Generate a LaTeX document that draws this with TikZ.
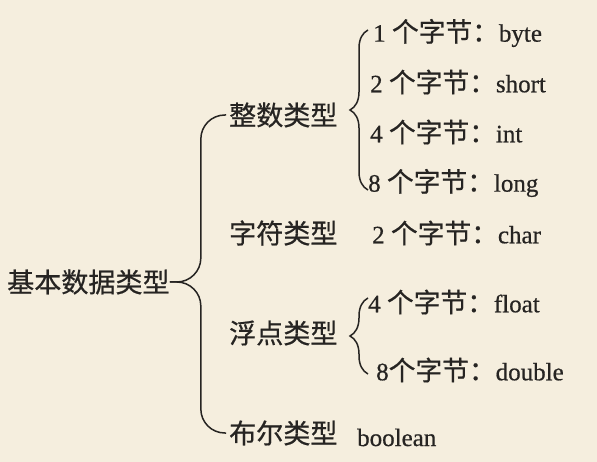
\documentclass[tikz,border=0pt]{standalone}
\usepackage{fontspec}
\setmainfont[FakeBold=0.6]{Liberation Serif}
\newfontfamily\cjk[Scale=1.07,FakeBold=0.6]{Noto Sans CJK SC}
\usepackage{xcolor}
\usetikzlibrary{decorations.pathreplacing}
\definecolor{paper}{RGB}{245,238,222}
\definecolor{ink}{RGB}{38,36,34}
\newcommand\zj[2]{#1 {\cjk 个字节：}#2}
\tikzstyle{lbl}=[anchor=west,inner sep=0pt,text=ink,font=\fontsize{25}{30}\selectfont]
\tikzstyle{kind}=[lbl,font=\fontsize{25.3}{30}\selectfont\cjk]
\tikzstyle{br}=[line width=1.5pt,draw=ink,rounded corners=24pt]
\tikzstyle{cbr}=[line width=1.5pt,draw=ink,decorate,decoration={brace,amplitude=18pt}]
\begin{document}
\begin{tikzpicture}[x=1pt,y=-1pt]
\fill[paper] (0,0) rectangle (597,462);
\useasboundingbox (0,0) rectangle (597,462);
\node[kind] (root) at (7,282) {基本数据类型};
\node[kind] (int) at (229,115) {整数类型};
\node[kind] (chr) at (229,233) {字符类型};
\node[kind] (flt) at (229,333) {浮点类型};
\node[kind] (bool) at (229,433) {布尔类型};
\node[lbl] (byte) at (373,33) {\zj{1}{byte}};
\node[lbl] (short) at (370,82) {\zj{2}{short}};
\node[lbl] (intv) at (370,132) {\zj{4}{int}};
\node[lbl] (long) at (368,183) {\zj{8}{long}};
\node[lbl] (char) at (372,233) {\zj{2}{char}};
\node[lbl] (float) at (368,302) {\zj{4}{float}};
\node[lbl] (double) at (376,370) {8{\cjk 个字节：}double};
\node[lbl,anchor=base west] (boolv) at (357,446) {boolean};
\draw[br] (root.east) -- ++(31,0) |- ([xshift=-3pt]int.west);
\draw[br] (root.east) -- ++(31,0) |- ([xshift=-3pt]bool.west);
\draw[cbr] ([yshift=-7pt]long.west) -- ([yshift=3pt]long.west |- byte.west);
\draw[cbr] ([yshift=-4pt]float.west |- double.west) -- ([yshift=4pt]float.west);
\end{tikzpicture}
\end{document}
